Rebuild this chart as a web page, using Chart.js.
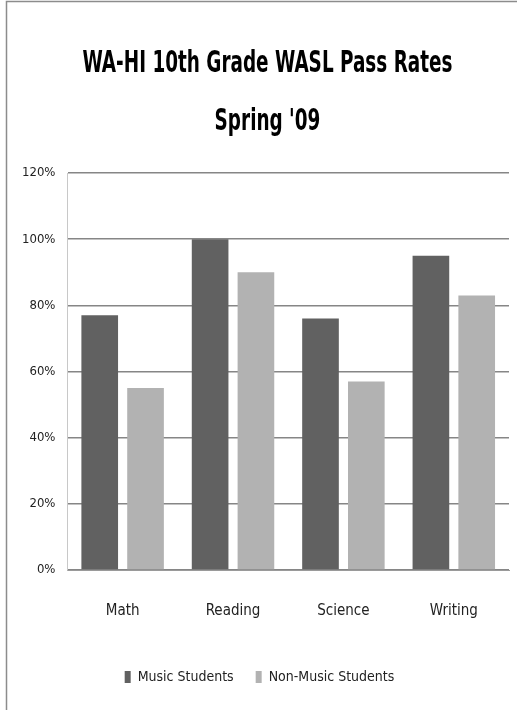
<!DOCTYPE html>
<html>
<head>
<meta charset="utf-8">
<script src="https://cdn.jsdelivr.net/npm/chart.js@4.4.1/dist/chart.umd.min.js"></script>
<style>
  html, body { margin: 0; padding: 0; background: #fff; }
  #wrap { position: relative; width: 517px; height: 710px; overflow: hidden; }
  #title {
    position: absolute; top: 32px; left: -141px; width: 817px;
    text-align: center; pointer-events: none;
    font-family: 'DejaVu Sans Condensed', sans-serif;
    font-weight: bold; font-size: 31px; line-height: 58px; color: #000;
  }
  #title div { transform: scaleX(0.66); white-space: nowrap; }
</style>
</head>
<body>
<div id="wrap">
  <canvas id="passChart"></canvas>
  <div id="title"><div>WA-HI 10th Grade WASL Pass Rates</div><div>Spring '09</div></div>
</div>
<script>
// Data
const subjects = ["Math", "Reading", "Science", "Writing"];
const musicStudents = [77, 100, 76, 95];
const nonMusicStudents = [55, 90, 57, 83];
const yTicks = [0, 20, 40, 60, 80, 100, 120];

const narrow = "'DejaVu Sans Condensed', sans-serif";

// White page with the thin frame on the left and top
const framePlugin = {
  id: "frame",
  beforeDraw(chart) {
    const ctx = chart.ctx;
    ctx.save();
    ctx.fillStyle = "#fff";
    ctx.fillRect(0, 0, chart.width, chart.height);
    ctx.strokeStyle = "#8c8c8c";
    ctx.lineWidth = 1.5;
    ctx.beginPath();
    ctx.moveTo(6.5, chart.height);
    ctx.lineTo(6.5, 1.5);
    ctx.lineTo(chart.width, 1.5);
    ctx.stroke();
    ctx.restore();
  }
};

const passChart = new Chart(document.getElementById("passChart"), {
  type: "bar",
  data: {
    labels: subjects,
    datasets: [
      {
        label: "Music Students",
        data: musicStudents,
        backgroundColor: "#616161",
      },
      {
        label: "Non-Music Students",
        data: nonMusicStudents,
        backgroundColor: "#b2b2b2",
      },
    ],
  },
  options: {
    responsive: true,
    maintainAspectRatio: false,
    animation: false,
    categoryPercentage: 0.83,
    barPercentage: 0.8,
    layout: { padding: { left: 10, right: 8, top: 173, bottom: 16 } },
    plugins: {
      legend: {
        position: "bottom",
        labels: {
          color: "#222",
          font: { family: narrow, size: 14 },
          boxWidth: 6,
          boxHeight: 12,
          padding: 22,
        },
      },
      tooltip: { enabled: false },
    },
    scales: {
      x: {
        grid: { display: false },
        border: { color: "#9a9a9a", width: 1 },
        ticks: {
          color: "#222",
          font: { family: narrow, size: 15 },
          padding: 24,
        },
        // extra room between the category labels and the legend
        afterFit(axis) {
          axis.height += 4;
        },
      },
      y: {
        min: 0,
        max: 120,
        afterBuildTicks(axis) {
          axis.ticks = yTicks.map((v) => ({ value: v }));
        },
        grid: { color: "#868686", lineWidth: 1.5, drawTicks: false },
        border: { color: "#c8c8c8", width: 1 },
        ticks: {
          color: "#222",
          font: { family: narrow, size: 13 },
          padding: 12,
          callback: (v) => v + "%",
        },
      },
    },
  },
  plugins: [framePlugin],
});
</script>
</body>
</html>
